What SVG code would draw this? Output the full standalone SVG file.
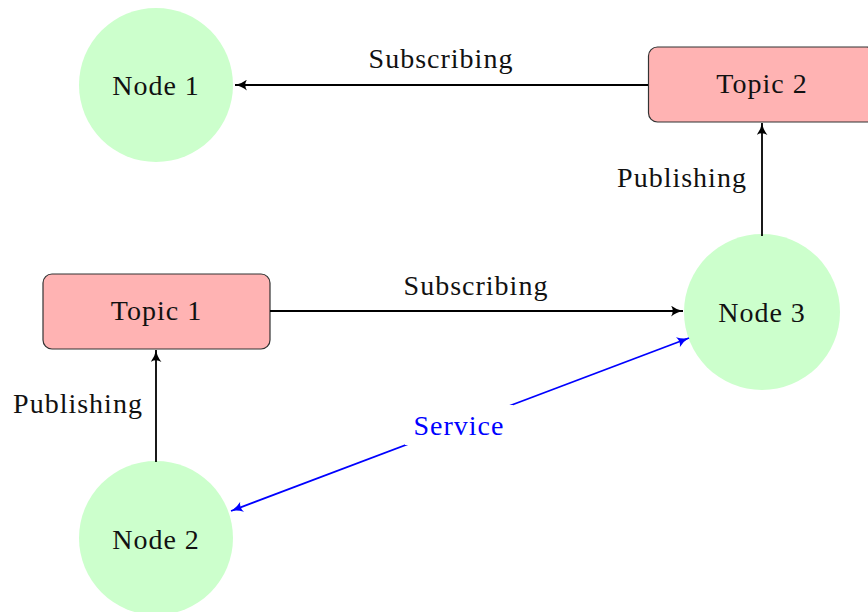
<svg xmlns="http://www.w3.org/2000/svg" width="868" height="612" viewBox="0 0 868 612">
<style>
.node{fill:#ccffcc;}
.topic{fill:#ffb3b3;stroke:#333;stroke-width:1.2;}
text{font-family:"Liberation Serif","Times New Roman",serif;font-size:28px;letter-spacing:1px;fill:#111;text-anchor:middle;dominant-baseline:central;}
.edge{fill:none;stroke:#000;stroke-width:1.8;}
.blue{stroke:#0000ff;}
</style>
<defs>
<marker id="ah" viewBox="0 0 12 10" refX="11" refY="5" markerWidth="13" markerHeight="11" markerUnits="userSpaceOnUse" orient="auto">
<path d="M0,0 Q5,4 11,5 Q5,6 0,10 Q3,5 0,0 Z" fill="#000"/>
</marker>
<marker id="ahb" viewBox="0 0 12 10" refX="11" refY="5" markerWidth="13" markerHeight="11" markerUnits="userSpaceOnUse" orient="auto-start-reverse">
<path d="M0,0 Q5,4 11,5 Q5,6 0,10 Q3,5 0,0 Z" fill="#0000ff"/>
</marker>
</defs>
<g id="node1"><circle class="node" cx="156" cy="85" r="77"/><text x="156" y="85">Node 1</text></g>
<g id="node2"><circle class="node" cx="156" cy="538" r="77"/><text x="156" y="539">Node 2</text></g>
<g id="node3"><circle class="node" cx="762" cy="312" r="78"/><text x="762" y="312">Node 3</text></g>
<g id="topic1"><rect class="topic" x="43" y="274" width="227" height="75" rx="9"/><text x="156.5" y="310">Topic 1</text></g>
<g id="topic2"><rect class="topic" x="648.5" y="47" width="227" height="75" rx="9"/><text x="762" y="83">Topic 2</text></g>
<g id="connectors">
<line class="edge" x1="648" y1="85" x2="235" y2="85" marker-end="url(#ah)"/>
<text x="441" y="58">Subscribing</text>
<line class="edge" x1="270" y1="311" x2="683" y2="311" marker-end="url(#ah)"/>
<text x="476" y="285">Subscribing</text>
<line class="edge" x1="156" y1="462" x2="156" y2="350" marker-end="url(#ah)"/>
<text x="78" y="403">Publishing</text>
<line class="edge" x1="762" y1="236" x2="762" y2="123" marker-end="url(#ah)"/>
<text x="682" y="177">Publishing</text>
<line class="edge blue" x1="231" y1="511" x2="689" y2="338" marker-start="url(#ahb)" marker-end="url(#ahb)"/>
<rect x="405" y="405" width="108" height="40" fill="#fff"/>
<text x="459" y="425" style="fill:#0000ff">Service</text>
</g>
</svg>
